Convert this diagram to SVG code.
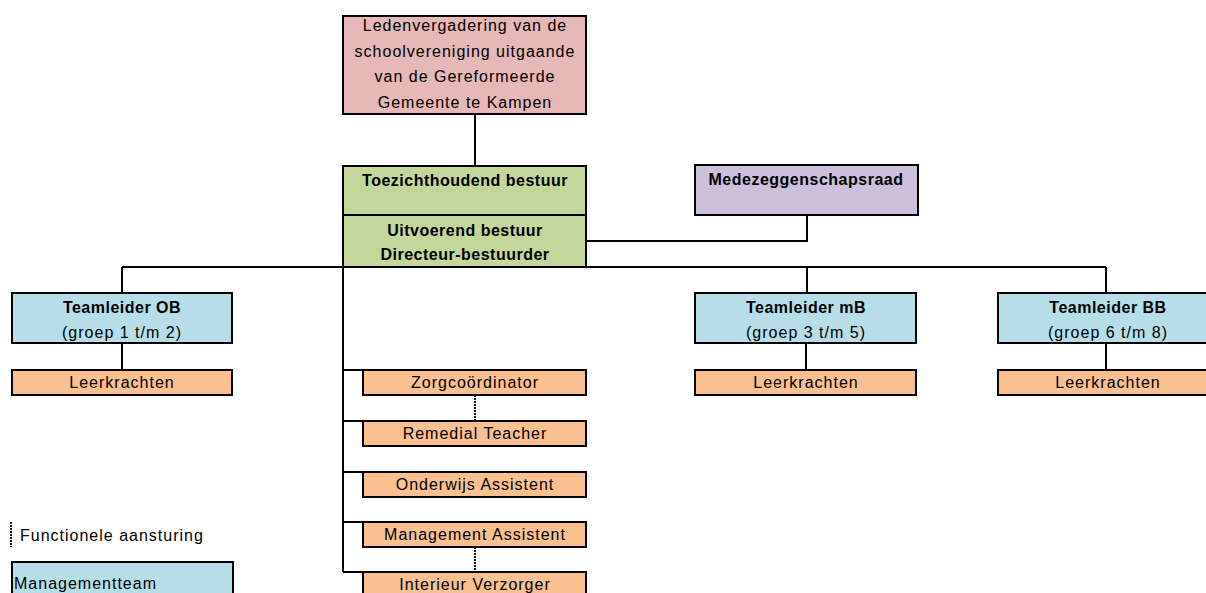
<svg xmlns="http://www.w3.org/2000/svg" width="1206" height="593" viewBox="0 0 1206 593">
<style>
.box{stroke:#000;stroke-width:2}
.pink{fill:#E6B9B8}.green{fill:#C4D79B}.purple{fill:#CCC0DA}.blue{fill:#B7DEE8}.orange{fill:#FAC090}
text{font-family:"Liberation Sans",Arial,sans-serif;font-size:16px;fill:#000;letter-spacing:1px}
.c{text-anchor:middle}
.b{font-weight:bold;letter-spacing:0.5px}
.ln{stroke:#000;stroke-width:2;fill:none}
.dash{stroke:#1a1a1a;stroke-width:2;stroke-dasharray:2 1;fill:none}
</style>
<rect width="1206" height="593" fill="#fff"/>
<g id="connectors">
<line class="ln" x1="475" y1="114" x2="475" y2="166"/>
<polyline class="ln" points="586,241 807,241 807,215"/>
<line class="ln" x1="122" y1="267" x2="1106" y2="267"/>
<line class="ln" x1="122" y1="267" x2="122" y2="293"/>
<line class="ln" x1="807" y1="267" x2="807" y2="293"/>
<line class="ln" x1="1106" y1="267" x2="1106" y2="293"/>
<line class="ln" x1="122" y1="343" x2="122" y2="370"/>
<line class="ln" x1="806" y1="343" x2="806" y2="370"/>
<line class="ln" x1="1106" y1="343" x2="1106" y2="370"/>
<line class="ln" x1="343" y1="267" x2="343" y2="572"/>
<line class="ln" x1="343" y1="370" x2="363" y2="370"/>
<line class="ln" x1="343" y1="421" x2="363" y2="421"/>
<line class="ln" x1="343" y1="472" x2="363" y2="472"/>
<line class="ln" x1="343" y1="522" x2="363" y2="522"/>
<line class="ln" x1="343" y1="572" x2="363" y2="572"/>
<line class="dash" x1="475" y1="395" x2="475" y2="421"/>
<line class="dash" x1="475" y1="547" x2="475" y2="572"/>
</g>
<g id="ledenvergadering">
<rect class="box pink" x="343" y="16" width="243" height="98"/>
<text class="c" x="465" y="31">Ledenvergadering van de</text>
<text class="c" x="465" y="57">schoolvereniging uitgaande</text>
<text class="c" x="465" y="82">van de Gereformeerde</text>
<text class="c" x="465" y="108">Gemeente te Kampen</text>
</g>
<g id="toezichthoudend">
<rect class="box green" x="343" y="166" width="243" height="49"/>
<text class="c b" x="465" y="186">Toezichthoudend bestuur</text>
</g>
<g id="uitvoerend">
<rect class="box green" x="343" y="215" width="243" height="52"/>
<text class="c b" x="465" y="236">Uitvoerend bestuur</text>
<text class="c b" x="465" y="260">Directeur-bestuurder</text>
</g>
<g id="medezeggenschapsraad">
<rect class="box purple" x="695" y="165" width="223" height="50"/>
<text class="c b" x="806" y="185">Medezeggenschapsraad</text>
</g>
<g id="teamleider-ob">
<rect class="box blue" x="12" y="293" width="220" height="50"/>
<text class="c b" x="122" y="313">Teamleider OB</text>
<text class="c" x="122" y="338">(groep 1 t/m 2)</text>
</g>
<g id="teamleider-mb">
<rect class="box blue" x="695" y="293" width="221" height="50"/>
<text class="c b" x="806" y="313">Teamleider mB</text>
<text class="c" x="806" y="338">(groep 3 t/m 5)</text>
</g>
<g id="teamleider-bb">
<rect class="box blue" x="998" y="293" width="220" height="50"/>
<text class="c b" x="1108" y="313">Teamleider BB</text>
<text class="c" x="1108" y="338">(groep 6 t/m 8)</text>
</g>
<g id="leerkrachten-ob">
<rect class="box orange" x="12" y="370" width="220" height="25"/>
<text class="c" x="122" y="388">Leerkrachten</text>
</g>
<g id="leerkrachten-mb">
<rect class="box orange" x="695" y="370" width="221" height="25"/>
<text class="c" x="806" y="388">Leerkrachten</text>
</g>
<g id="leerkrachten-bb">
<rect class="box orange" x="998" y="370" width="220" height="25"/>
<text class="c" x="1108" y="388">Leerkrachten</text>
</g>
<g id="zorgcoordinator">
<rect class="box orange" x="363" y="370" width="223" height="25"/>
<text class="c" x="475" y="388">Zorgcoördinator</text>
</g>
<g id="remedial-teacher">
<rect class="box orange" x="363" y="421" width="223" height="25"/>
<text class="c" x="475" y="439">Remedial Teacher</text>
</g>
<g id="onderwijs-assistent">
<rect class="box orange" x="363" y="472" width="223" height="25"/>
<text class="c" x="475" y="490">Onderwijs Assistent</text>
</g>
<g id="management-assistent">
<rect class="box orange" x="363" y="522" width="223" height="25"/>
<text class="c" x="475" y="540">Management Assistent</text>
</g>
<g id="interieur-verzorger">
<rect class="box orange" x="363" y="572" width="223" height="25"/>
<text class="c" x="475" y="590">Interieur Verzorger</text>
</g>
<g id="legend">
<line class="dash" x1="11" y1="522" x2="11" y2="547"/>
<text x="20" y="541">Functionele aansturing</text>
<rect class="box blue" x="12" y="562" width="221" height="40"/>
<text x="14" y="589">Managementteam</text>
</g>
</svg>
